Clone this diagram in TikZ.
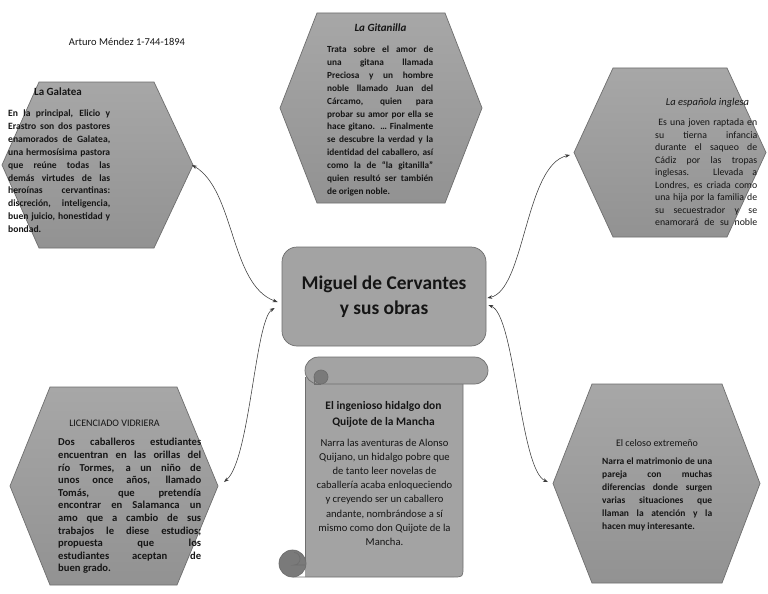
\documentclass[tikz,border=0pt]{standalone}
\usepackage{fontspec}
\setmainfont{Carlito}
\usetikzlibrary{arrows.meta}
\definecolor{hexfillA}{HTML}{A7A7A7}
\definecolor{hexfillB}{HTML}{929292}
\definecolor{hexline}{HTML}{6E6E6E}
\definecolor{conncol}{HTML}{3A3A3A}
\definecolor{scrollfill}{HTML}{A3A3A3}
\definecolor{scrolldark}{HTML}{7A7A7A}
\definecolor{txtcol}{HTML}{151515}
\newcommand\JL[1]{\noindent\makebox[\linewidth][s]{#1}\par}
\newcommand\LL[1]{\noindent #1\par}
\begin{document}
\begin{tikzpicture}[x=1pt,y=-1pt,
  hexa/.style={draw=hexline, line width=0.7pt, top color=hexfillA, bottom color=hexfillB},
  connector/.style={draw=conncol, line width=0.55pt, {Stealth[length=5pt,width=3.6pt]}-{Stealth[length=5pt,width=3.6pt]}},
  txt/.style={anchor=base west, inner sep=0pt, text=txtcol},
  ttl/.style={anchor=base, inner sep=0pt, text=txtcol},
  scrollline/.style={draw=hexline, line width=0.7pt},
 ]
\fill[white] (0,0) rectangle (768,594);
\useasboundingbox (0,0) rectangle (768,594);

% author
\node[ttl] (author) at (127,45.5) {\fontsize{10.5}{12}\selectfont Arturo Méndez 1-744-1894};

% hexagons
\draw[hexa] (2,165) -- (39,82) -- (154,82) -- (193,165) -- (154,248) -- (39,248) -- cycle;
\draw[hexa] (280,108) -- (317,13) -- (445,13) -- (482,108) -- (445,203) -- (317,203) -- cycle;
\draw[hexa] (574,152.5) -- (613,68) -- (727,68) -- (766,152.5) -- (727,237) -- (613,237) -- cycle;
\draw[hexa] (10,486) -- (50,387) -- (177,387) -- (218,486) -- (177,585) -- (50,585) -- cycle;
\draw[hexa] (553,483.5) -- (592,384) -- (722,384) -- (760,483.5) -- (722,583) -- (592,583) -- cycle;

\coordinate (galR) at (192,165);
\coordinate (licR) at (224,482);
\coordinate (espL) at (570,155);
\coordinate (celL) at (548,482);

% center
\node[draw=hexline, line width=0.7pt, fill=scrollfill, rounded corners=15pt,
      minimum width=204pt, minimum height=99pt, align=center, text=txtcol,
      font={\fontsize{19.4}{25}\selectfont\bfseries}] (cen) at (384,296.5)
      {Miguel de Cervantes\\y sus obras};

% scroll
\fill[scrollfill] (305,377) -- (305,577) -- (453,577) .. controls (463,577) .. (463,567) -- (463,384) -- cycle;
\draw[scrollline] (305,377) -- (305,563);
\draw[scrollline] (292.5,577) -- (453,577) .. controls (463,577) .. (463,567) -- (463,384);
\draw[scrollline, fill=scrollfill, rounded corners=13.5pt] (305,357) rectangle (488,384);
\draw[scrollline, fill=scrolldark] (321,377) circle (7);
\draw[scrollline] (314,377) -- (314,384) -- (321,384);
\draw[scrollline, fill=scrolldark] (292.5,563.5) circle (13.5);
\draw[scrollline] (294,552.5) .. controls (302,552.5) and (302,565) .. (294,565) -- (305,565);

% connectors
\coordinate (cenL1) at ([xshift=-4pt,yshift=-5.5pt]cen.west);
\coordinate (cenL2) at ([xshift=-7pt,yshift=-11.5pt]cen.west);
\coordinate (cenR1) at ([xshift=1pt,yshift=-1.5pt]cen.east);
\coordinate (cenR2) at ([xshift=2pt,yshift=-8.5pt]cen.east);
\draw[connector] (galR) .. controls (235,190) and (230,285) .. (cenL1);
\draw[connector] (cenL2) .. controls (255,320) and (250,460) .. (licR);
\draw[connector] (cenR1) .. controls (525,290) and (525,165) .. (espL);
\draw[connector] (cenR2) .. controls (515,315) and (520,470) .. (celL);

% La Galatea
\node[ttl] (galT) at (58,95.8) {\fontsize{11}{13}\selectfont\bfseries La Galatea};
\node[txt] (galB) at (8,116.8) {\parbox[t]{102pt}{\fontsize{9.6}{12.85}\selectfont\bfseries
\JL{En la principal, Elicio y}
\JL{Erastro son dos pastores}
\JL{enamorados de Galatea,}
\JL{una hermosísima pastora}
\JL{que reúne todas las}
\JL{demás virtudes de las}
\JL{heroínas cervantinas:}
\JL{discreción, inteligencia,}
\JL{buen juicio, honestidad y}
\LL{bondad.}}};

% La Gitanilla
\node[ttl] (gitT) at (380.5,31.5) {\fontsize{11}{13}\selectfont\bfseries\itshape La Gitanilla};
\node[txt] (gitB) at (327,52.5) {\parbox[t]{106pt}{\fontsize{9.3}{12.9}\selectfont\bfseries
\JL{Trata sobre el amor de}
\JL{una gitana llamada}
\JL{Preciosa y un hombre}
\JL{noble llamado Juan del}
\JL{Cárcamo, quien para}
\JL{probar su amor por ella se}
\JL{hace gitano. … Finalmente}
\JL{se descubre la verdad y la}
\JL{identidad del caballero, así}
\JL{como la de “la gitanilla”}
\JL{quien resultó ser también}
\LL{de origen noble.}}};

% La espanola inglesa
\node[ttl] (espT) at (707.5,105.5) {\fontsize{10.5}{13}\selectfont\itshape La española inglesa};
\node[txt] (espB) at (655,125.5) {\parbox[t]{102pt}{\fontsize{9.8}{12.5}\selectfont
\JL{\ Es una joven raptada en}
\JL{su tierna infancia}
\JL{durante el saqueo de}
\JL{Cádiz por las tropas}
\JL{inglesas. Llevada a}
\JL{Londres, es criada como}
\JL{una hija por la familia de}
\JL{su secuestrador y se}
\JL{enamorará de su noble}}};

% Licenciado Vidriera
\node[ttl] (licT) at (114.5,426.3) {\fontsize{10}{12}\selectfont LICENCIADO VIDRIERA};
\node[txt] (licB) at (58,445.8) {\parbox[t]{143pt}{\fontsize{10.6}{12.6}\selectfont\bfseries
\JL{Dos caballeros estudiantes}
\JL{encuentran en las orillas del}
\JL{río Tormes, a un niño de}
\JL{unos once años, llamado}
\JL{Tomás, que pretendía}
\JL{encontrar en Salamanca un}
\JL{amo que a cambio de sus}
\JL{trabajos le diese estudios;}
\JL{propuesta que los}
\JL{estudiantes aceptan de}
\LL{buen grado.}}};

% El celoso extremeno
\node[ttl] (celT) at (657,446.2) {\fontsize{10}{12}\selectfont El celoso extremeño};
\node[txt] (celB) at (602,464.5) {\parbox[t]{110pt}{\fontsize{9.5}{13}\selectfont\bfseries
\JL{Narra el matrimonio de una}
\JL{pareja con muchas}
\JL{diferencias donde surgen}
\JL{varias situaciones que}
\JL{llaman la atención y la}
\LL{hacen muy interesante.}}};

% Quijote (scroll)
\node[ttl, align=center, font={\fontsize{11.5}{16}\selectfont\bfseries}] (quiT) at (383.5,425.8)
  {El ingenioso hidalgo don\\Quijote de la Mancha};
\node[txt, anchor=base] (quiB) at (384.5,446.5) {\parbox[t]{150pt}{\centering\fontsize{10.6}{14.1}\selectfont
Narra las aventuras de Alonso\\
Quijano, un hidalgo pobre que\\
de tanto leer novelas de\\
caballería acaba enloqueciendo\\
y creyendo ser un caballero\\
andante, nombrándose a sí\\
mismo como don Quijote de la\\
Mancha.\par}};
\end{tikzpicture}
\end{document}
